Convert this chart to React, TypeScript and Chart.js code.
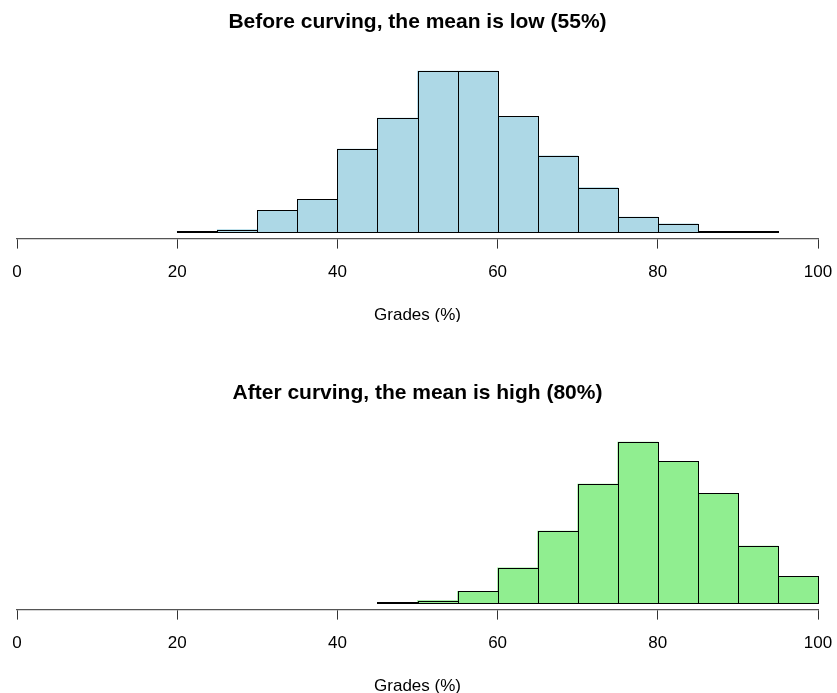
import React, { useEffect, useRef } from "react";
import { Chart, registerables } from "chart.js";

Chart.register(...registerables);

// ---- data ----
const binWidth = 5;
const beforeBinStarts = [20, 25, 30, 35, 40, 45, 50, 55, 60, 65, 70, 75, 80, 85, 90];
const beforeCounts = [1, 3, 26, 39, 99, 136, 192, 192, 138, 91, 53, 18, 10, 1, 1];
const afterBinStarts = [45, 50, 55, 60, 65, 70, 75, 80, 85, 90, 95];
const afterCounts = [1, 3, 14, 42, 86, 142, 192, 169, 131, 68, 32];
const xTickValues = [0, 20, 40, 60, 80, 100];
const beforeTitle = "Before curving, the mean is low (55%)";
const afterTitle = "After curving, the mean is high (80%)";
const xLabel = "Grades (%)";

const FONT = "'Liberation Sans', Arial, Helvetica, sans-serif";

const outlinePlugin = {
  id: "binOutline",
  afterDatasetsDraw(chart: any) {
    const ctx = chart.ctx;
    const meta = chart.getDatasetMeta(0);
    const xs = chart.scales.x;
    const raw = chart.data.datasets[0].data as any[];
    ctx.save();
    ctx.strokeStyle = "#000";
    ctx.lineWidth = 1;
    meta.data.forEach((el: any, i: number) => {
      const { y, base } = el.getProps(["y", "base"], true);
      const cx = raw[i].x;
      const l = Math.round(xs.getPixelForValue(cx - binWidth / 2)) + 0.5;
      const r = Math.round(xs.getPixelForValue(cx + binWidth / 2)) + 0.5;
      const t = Math.round(y) + 0.5;
      const b = Math.round(base) + 0.5;
      ctx.strokeRect(l, t, r - l, Math.max(b - t, 0));
      if (b - t < 1) {
        ctx.beginPath();
        ctx.moveTo(l, b - 1);
        ctx.lineTo(r, b - 1);
        ctx.stroke();
      }
    });
    ctx.restore();
  },
};

function Histogram(props: { title: string; starts: number[]; counts: number[]; fill: string; top: number }) {
  const ref = useRef<HTMLCanvasElement | null>(null);
  useEffect(() => {
    if (!ref.current) return;
    const maxCount = Math.max(...props.counts);
    const data = props.starts.map((s, i) => ({ x: s + binWidth / 2, y: props.counts[i] }));
    const chart = new Chart(ref.current, {
      type: "bar",
      data: {
        datasets: [
          {
            data: data as any,
            backgroundColor: props.fill,
            borderWidth: 0,
            barPercentage: 1,
            categoryPercentage: 1,
          },
        ],
      },
      options: {
        animation: false,
        responsive: false,
        maintainAspectRatio: false,
        events: [],
        layout: { padding: { left: 17, right: 19, top: 0, bottom: 0 } },
        plugins: {
          legend: { display: false },
          tooltip: { enabled: false },
          title: {
            display: true,
            text: props.title,
            color: "#000",
            font: { family: FONT, size: 21, weight: "bold", lineHeight: 1.2 },
            padding: { top: 9.4, bottom: 30 },
          },
        },
        scales: {
          x: {
            type: "linear",
            min: 0,
            max: 100,
            offset: false,
            afterBuildTicks: (scale: any) => {
              scale.ticks = xTickValues.map((v) => ({ value: v }));
            },
            afterFit: (scale: any) => {
              scale.paddingLeft = 0;
              scale.paddingRight = 0;
            },
            grid: {
              display: true,
              offset: false,
              drawOnChartArea: false,
              drawTicks: true,
              tickLength: 10,
              color: "#333",
            },
            border: { display: true, color: "#555", width: 1.3 },
            ticks: {
              color: "#000",
              padding: 13.8,
              maxRotation: 0,
              autoSkip: false,
              font: { family: FONT, size: 17, lineHeight: 1.2 },
            },
            title: {
              display: true,
              text: xLabel,
              color: "#000",
              font: { family: FONT, size: 17, lineHeight: 1 },
              padding: { top: 9.9, bottom: -1.5 },
            },
          },
          y: {
            display: false,
            min: -0.04 * maxCount,
            max: 1.04 * maxCount,
          },
        },
      },
      plugins: [outlinePlugin],
    });
    return () => chart.destroy();
  }, []);
  return (
    <canvas
      ref={ref}
      width={837}
      height={322}
      style={{ position: "absolute", left: 0, top: props.top, width: 837, height: 322 }}
    />
  );
}

export default function App() {
  return (
    <div style={{ position: "fixed", left: 0, top: 0, width: 837, height: 693, background: "#fff" }}>
      <Histogram title={beforeTitle} starts={beforeBinStarts} counts={beforeCounts} fill="#ADD8E6" top={0} />
      <Histogram title={afterTitle} starts={afterBinStarts} counts={afterCounts} fill="#90EE90" top={371} />
    </div>
  );
}
